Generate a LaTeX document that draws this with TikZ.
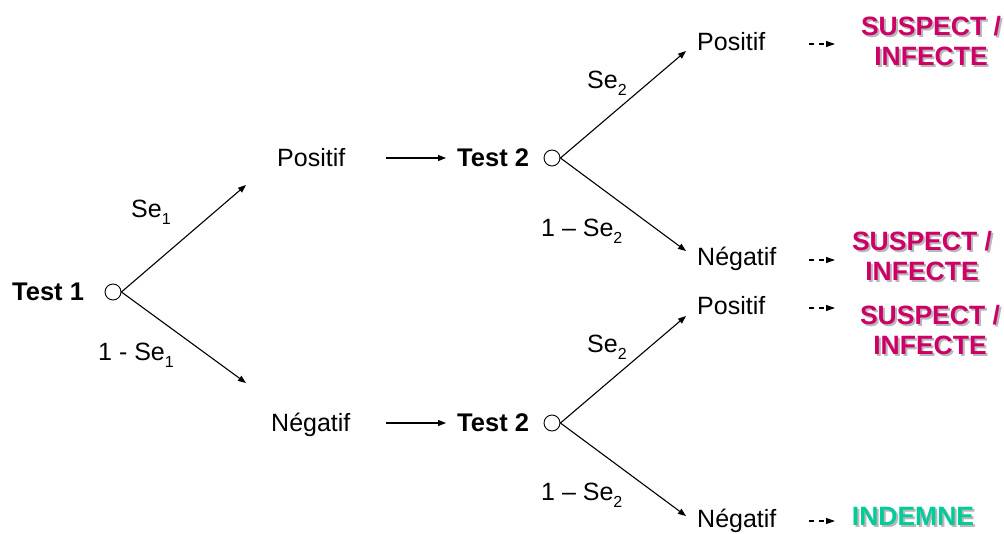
\documentclass[tikz,border=0pt]{standalone}
\usepackage{fontspec}
\setmainfont{Liberation Sans}
\usetikzlibrary{arrows.meta}
\definecolor{mag}{HTML}{CC0066}
\definecolor{grn}{HTML}{00CC99}
\definecolor{shd}{HTML}{B8B8B8}
\newcommand\sbs[1]{\raisebox{-0.28em}{\fontsize{16}{18}\selectfont #1}}
\begin{document}
\begin{tikzpicture}[x=1pt,y=-1pt,
  txt/.style={font=\fontsize{25}{28}\selectfont, inner sep=0pt, anchor=base west},
  bld/.style={txt, font=\fontsize{25.5}{28}\selectfont\bfseries},
  res/.style={font=\fontsize{26.5}{30}\selectfont\bfseries, inner sep=0pt, anchor=center, align=center},
  resshd/.style={res, text=shd},
  resone/.style={font=\fontsize{26.5}{30}\selectfont\bfseries, inner sep=0pt, anchor=base},
  circ/.style={circle, draw, line width=0.9pt, minimum size=16pt, inner sep=0pt},
  arr/.style={line width=1.1pt, -{Triangle[length=8pt,width=6pt]}},
  darr/.style={line width=1.1pt, dash pattern=on 5pt off 5pt, -{Triangle[length=9pt,width=6pt]}}]
\useasboundingbox (0,0) rectangle (1004,533);
% first level
\node[bld] (t1) at (12,300) {Test 1};
\node[circ] (c1) at (113,292) {};
\coordinate (e1a) at (246,185);
\coordinate (e1b) at (246,383);
\draw[arr] (c1.east) -- (e1a);
\draw[arr] (c1.east) -- (e1b);
\node[txt] (l1a) at (131,217) {Se\sbs{1}};
\node[txt] (l1b) at (98,360) {1 - Se\sbs{1}};
% second level top
\node[txt] (p1) at (277,166) {Positif};
\coordinate (s1) at (386,158);
\coordinate (s1e) at (446,158);
\draw[arr] (s1) -- (s1e);
\node[bld] (t2a) at (457,166) {Test 2};
\node[circ] (c2a) at (552,158) {};
% second level bottom
\node[txt] (n1) at (271,431) {Négatif};
\coordinate (s2) at (386,423);
\coordinate (s2e) at (446,423);
\draw[arr] (s2) -- (s2e);
\node[bld] (t2b) at (457,431) {Test 2};
\node[circ] (c2b) at (552,423) {};
% third level top
\coordinate (e2a) at (686,51);
\coordinate (e2b) at (686,251);
\draw[arr] (c2a.east) -- (e2a);
\draw[arr] (c2a.east) -- (e2b);
\node[txt] (l2a) at (587,88) {Se\sbs{2}};
\node[txt] (l2b) at (541,236) {1 – Se\sbs{2}};
\node[txt] (p2) at (697,50) {Positif};
\node[txt] (n2) at (697,265) {Négatif};
% third level bottom
\coordinate (e3a) at (686,316);
\coordinate (e3b) at (686,516);
\draw[arr] (c2b.east) -- (e3a);
\draw[arr] (c2b.east) -- (e3b);
\node[txt] (l3a) at (587,352) {Se\sbs{2}};
\node[txt] (l3b) at (541,500) {1 – Se\sbs{2}};
\node[txt] (p3) at (697,314) {Positif};
\node[txt] (n3) at (697,527) {Négatif};
% dashed arrows
\coordinate (d1) at (809,44); \coordinate (d1e) at (835,44);
\coordinate (d2) at (809,260); \coordinate (d2e) at (835,260);
\coordinate (d3) at (809,308); \coordinate (d3e) at (835,308);
\coordinate (d4) at (809,521); \coordinate (d4e) at (835,521);
\draw[darr] (d1) -- (d1e);
\draw[darr] (d2) -- (d2e);
\draw[darr] (d3) -- (d3e);
\draw[darr] (d4) -- (d4e);
% results (shadows first)
\node[resshd] (r1s) at (933,43) {SUSPECT /\\INFECTE};
\node[res, text=mag] (r1) at (931,41) {SUSPECT /\\INFECTE};
\node[resshd] (r2s) at (924,258) {SUSPECT /\\INFECTE};
\node[res, text=mag] (r2) at (922,256) {SUSPECT /\\INFECTE};
\node[resshd] (r3s) at (932,332) {SUSPECT /\\INFECTE};
\node[res, text=mag] (r3) at (930,330) {SUSPECT /\\INFECTE};
\node[resone, text=shd] (r4s) at (915,527) {INDEMNE};
\node[resone, text=grn] (r4) at (913,525) {INDEMNE};
\end{tikzpicture}
\end{document}
